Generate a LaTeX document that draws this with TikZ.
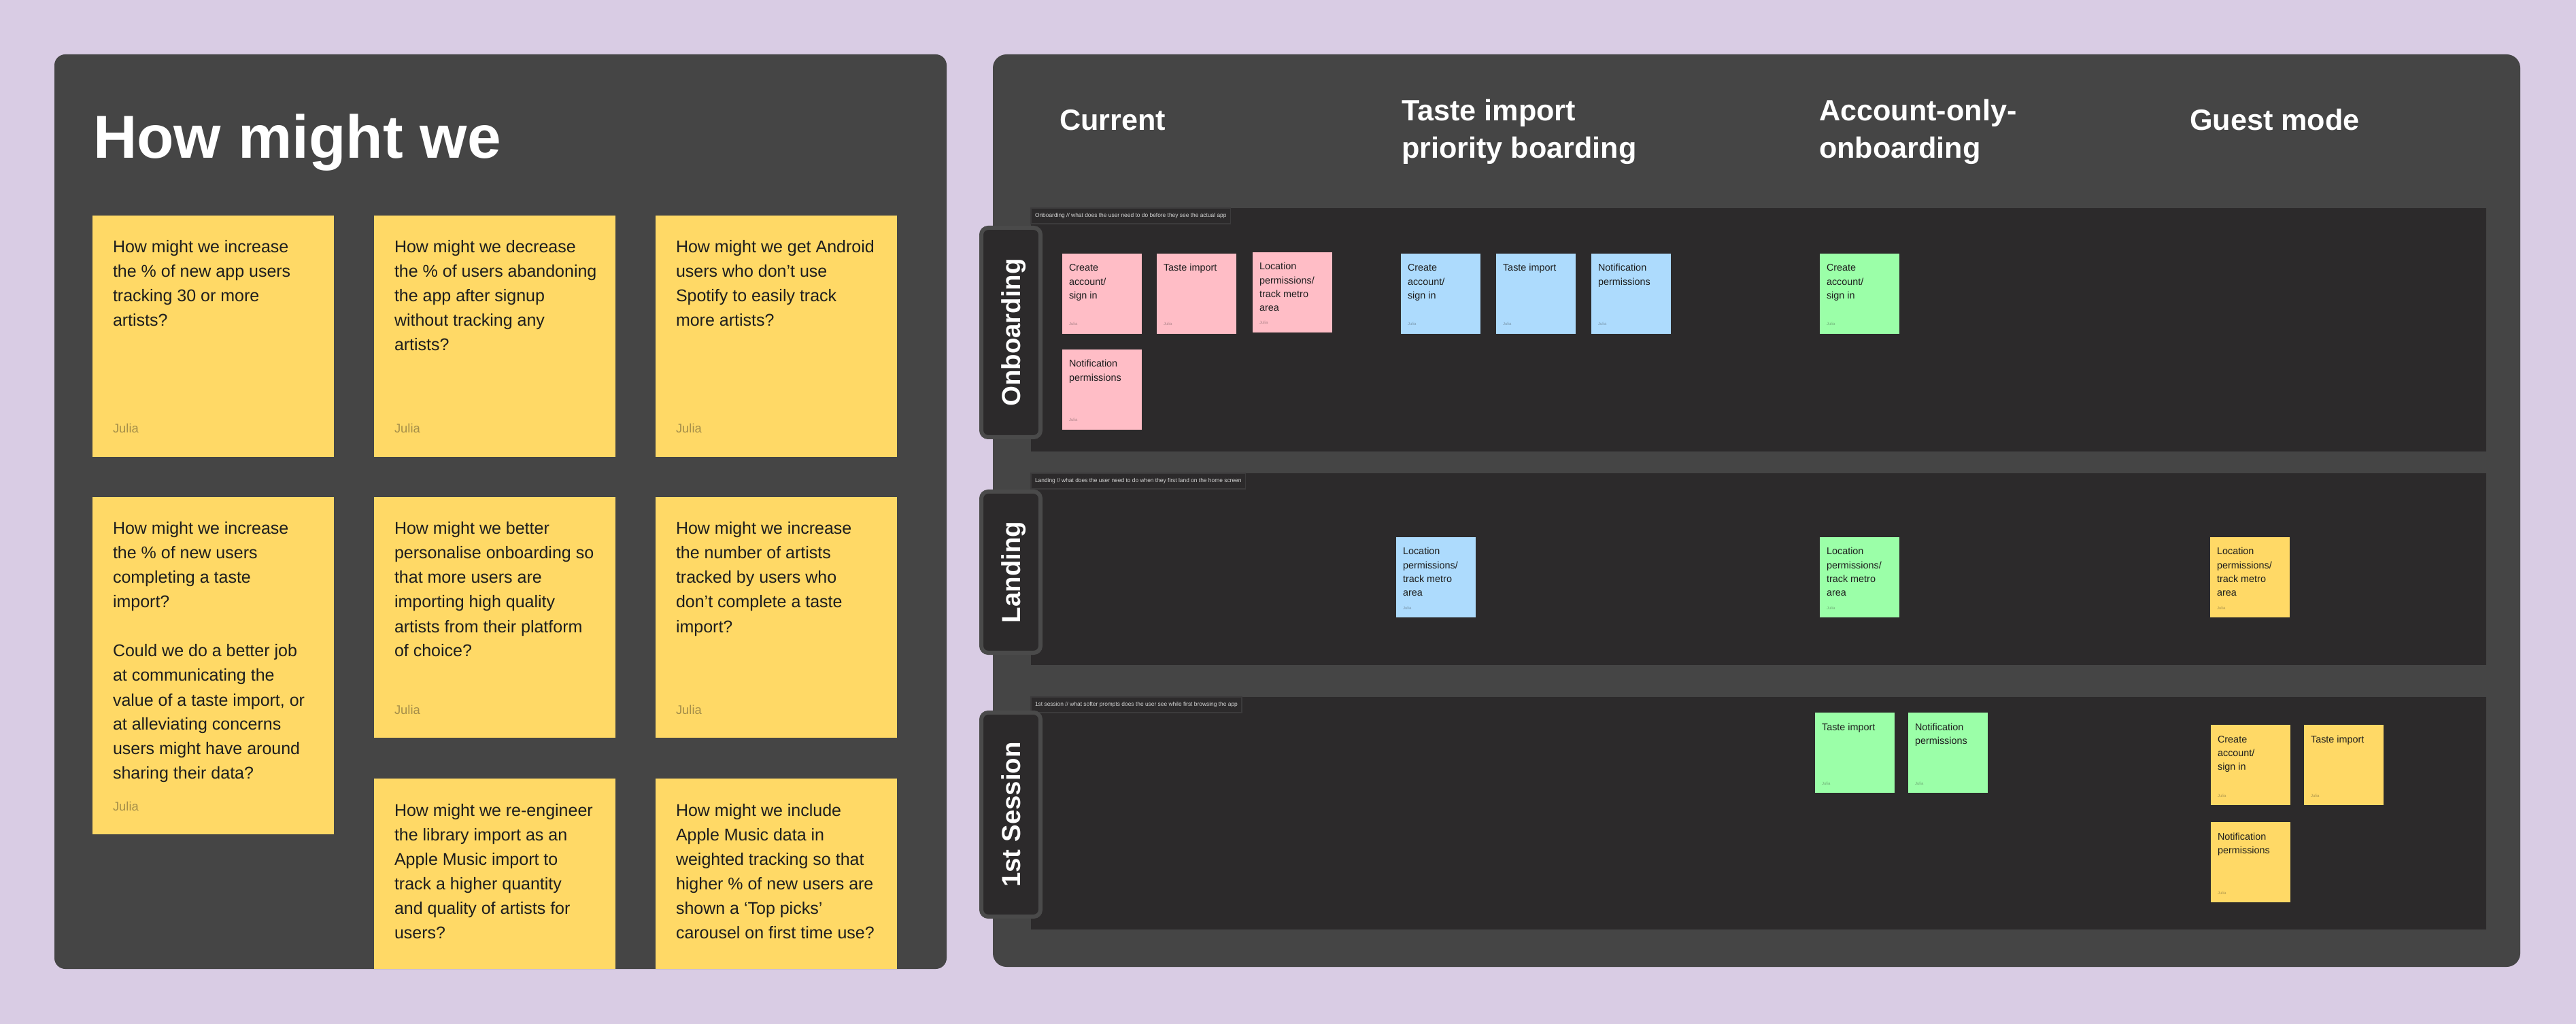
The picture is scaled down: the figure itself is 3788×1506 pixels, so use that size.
\documentclass[tikz,border=0pt]{standalone}
\usepackage{fontspec}
\setmainfont{Liberation Sans}
\usetikzlibrary{calc}
\definecolor{bg}{HTML}{D9CCE4}
\definecolor{panel}{HTML}{454545}
\definecolor{lane}{HTML}{2C2A2B}
\definecolor{tabborder}{HTML}{4A4A4A}
\definecolor{labelborder}{HTML}{3C3B3C}
\definecolor{labeltext}{HTML}{D4D4D4}
\definecolor{yel}{HTML}{FFD966}
\definecolor{pinkn}{HTML}{FFBDC6}
\definecolor{bluen}{HTML}{ADDBFD}
\definecolor{greenn}{HTML}{9BFFA8}
\definecolor{ink}{HTML}{1E1E1E}
\tikzset{
  panelbox/.style={fill=panel, draw=none, rounded corners=4pt, anchor=north west},
  lanebox/.style={fill=lane, draw=none, anchor=north west, minimum width=535pt},
  lanelabel/.style={anchor=north west, fill=lane, draw=labelborder, line width=0.4pt,
    font=\fontsize{2.1pt}{2.5pt}\selectfont, text=labeltext, inner xsep=1.5pt,
    minimum height=5.75pt, text height=1.5pt, text depth=0.4pt},
  tabbox/.style={fill=lane, draw=tabborder, line width=1.5pt, rounded corners=2.5pt,
    minimum width=21.75pt},
  tabtext/.style={rotate=90, text=white, font=\fontsize{9.6pt}{11pt}\selectfont\bfseries,
    text height=6.9pt, text depth=0pt},
  heading/.style={anchor=base west, text=white, font=\fontsize{10.8pt}{13.75pt}\selectfont\bfseries},
  titletext/.style={anchor=base west, text=white, font=\fontsize{22.3pt}{26pt}\selectfont\bfseries},
  hnote/.style={fill=yel, draw=none, anchor=north west, minimum width=88.75pt},
  hnotetext/.style={anchor=base west, text=ink, font=\fontsize{6.25pt}{9pt}\selectfont},
  hnoteauthor/.style={anchor=base west, text=ink, text opacity=0.4, font=\fontsize{4.6pt}{5pt}\selectfont},
  snote/.style={draw=none, anchor=north west, minimum width=29.25pt, minimum height=29.5pt},
  snotetext/.style={anchor=base west, text=ink, font=\fontsize{3.6pt}{5.07pt}\selectfont},
  snoteauthor/.style={anchor=base west, text=ink, text opacity=0.35, font=\fontsize{1.5pt}{2pt}\selectfont},
}
\newcommand{\hmwnote}[5]{%
  \node[hnote, minimum height=#4*0.25pt] (#1) at (#2,#3) {};
  \node[hnotetext] (#1-t) at ($(#1.north west)+(30,55)$) {\parbox[t]{100pt}{\raggedright #5}};
}
\newcommand{\hmwauthor}[1]{%
  \node[hnoteauthor] (#1-a) at ($(#1.south west)+(30,-35)$) {Julia};
}
\newcommand{\snotebox}[5]{%
  \node[snote, fill=#2] (#1) at (#3,#4) {};
  \node[snotetext] (#1-t) at ($(#1.north west)+(10,26)$) {\parbox[t]{40pt}{\raggedright #5}};
  \node[snoteauthor] (#1-a) at ($(#1.south west)+(10,-12)$) {Julia};
}
\begin{document}
\begin{tikzpicture}[x=0.25pt,y=-0.25pt, every node/.style={inner sep=0pt, outer sep=0pt}]
\useasboundingbox (0,0) rectangle (3788,1506);
\fill[bg] (0,0) rectangle (3788,1506);

% ---------- left panel ----------
\node[panelbox, minimum width=328pt, minimum height=336.25pt] (leftpanel) at (80,80) {};
\node[titletext] (title) at (137,233) {How might we};

\hmwnote{n11}{136}{317}{355}{How might we increase\\the \% of new app users\\tracking 30 or more\\artists?}
\hmwauthor{n11}
\hmwnote{n12}{550}{317}{355}{How might we decrease\\the \% of users abandoning\\the app after signup\\without tracking any\\artists?}
\hmwauthor{n12}
\hmwnote{n13}{964}{317}{355}{How might we get Android\\users who don’t use\\Spotify to easily track\\more artists?}
\hmwauthor{n13}
\hmwnote{n21}{136}{731}{496}{How might we increase\\the \% of new users\\completing a taste\\import?\\[9pt]Could we do a better job\\at communicating the\\value of a taste import, or\\at alleviating concerns\\users might have around\\sharing their data?}
\hmwauthor{n21}
\hmwnote{n22}{550}{731}{354}{How might we better\\personalise onboarding so\\that more users are\\importing high quality\\artists from their platform\\of choice?}
\hmwauthor{n22}
\hmwnote{n23}{964}{731}{354}{How might we increase\\the number of artists\\tracked by users who\\don’t complete a taste\\import?}
\hmwauthor{n23}
\hmwnote{n32}{550}{1145}{280}{How might we re-engineer\\the library import as an\\Apple Music import to\\track a higher quantity\\and quality of artists for\\users?}
\hmwnote{n33}{964}{1145}{280}{How might we include\\Apple Music data in\\weighted tracking so that\\higher \% of new users are\\shown a ‘Top picks’\\carousel on first time use?}

% ---------- right panel ----------
\node[panelbox, rounded corners=5pt, minimum width=561.5pt, minimum height=335.5pt] (rightpanel) at (1460,80) {};

\node[heading] (h1) at (1558,192) {Current};
\node[heading] (h2) at (2061,178) {\parbox[t]{100pt}{\raggedright Taste import\\priority boarding}};
\node[heading] (h3) at (2675,178) {\parbox[t]{100pt}{\raggedright Account-only-\\onboarding}};
\node[heading] (h4) at (3220,192) {Guest mode};

\node[lanebox, minimum height=89.5pt] (lane1) at (1516,306) {};
\node[lanebox, minimum height=70.5pt] (lane2) at (1516,696) {};
\node[lanebox, minimum height=85.5pt] (lane3) at (1516,1025) {};

\node[lanelabel] (lab1) at (lane1.north west) {Onboarding // what does the user need to do before they see the actual app};
\node[lanelabel] (lab2) at (lane2.north west) {Landing // what does the user need to do when they first land on the home screen};
\node[lanelabel] (lab3) at (lane3.north west) {1st session // what softer prompts does the user see while first browsing the app};

\node[tabbox, minimum height=77pt] (tab1) at (1486.5,489) {};
\node[tabtext] (tab1-t) at (tab1.center) {Onboarding};
\node[tabbox, minimum height=59.25pt] (tab2) at (1486.5,841.5) {};
\node[tabtext] (tab2-t) at (tab2.center) {Landing};
\node[tabbox, minimum height=75pt] (tab3) at (1486.5,1198) {};
\node[tabtext] (tab3-t) at (tab3.center) {1st Session};

% Onboarding lane
\snotebox{p1}{pinkn}{1562}{373}{Create\\account/\\sign in}
\snotebox{p2}{pinkn}{1701}{373}{Taste import}
\snotebox{p3}{pinkn}{1842}{371}{Location\\permissions/\\track metro\\area}
\snotebox{p4}{pinkn}{1562}{514}{Notification\\permissions}
\snotebox{b1}{bluen}{2060}{373}{Create\\account/\\sign in}
\snotebox{b2}{bluen}{2200}{373}{Taste import}
\snotebox{b3}{bluen}{2340}{373}{Notification\\permissions}
\snotebox{g1}{greenn}{2676}{373}{Create\\account/\\sign in}

% Landing lane
\snotebox{b4}{bluen}{2053}{790}{Location\\permissions/\\track metro\\area}
\snotebox{g2}{greenn}{2676}{790}{Location\\permissions/\\track metro\\area}
\snotebox{y1}{yel}{3250}{790}{Location\\permissions/\\track metro\\area}

% 1st session lane
\snotebox{g3}{greenn}{2669}{1048}{Taste import}
\snotebox{g4}{greenn}{2806}{1048}{Notification\\permissions}
\snotebox{y2}{yel}{3251}{1066}{Create\\account/\\sign in}
\snotebox{y3}{yel}{3388}{1066}{Taste import}
\snotebox{y4}{yel}{3251}{1209}{Notification\\permissions}
\end{tikzpicture}
\end{document}
